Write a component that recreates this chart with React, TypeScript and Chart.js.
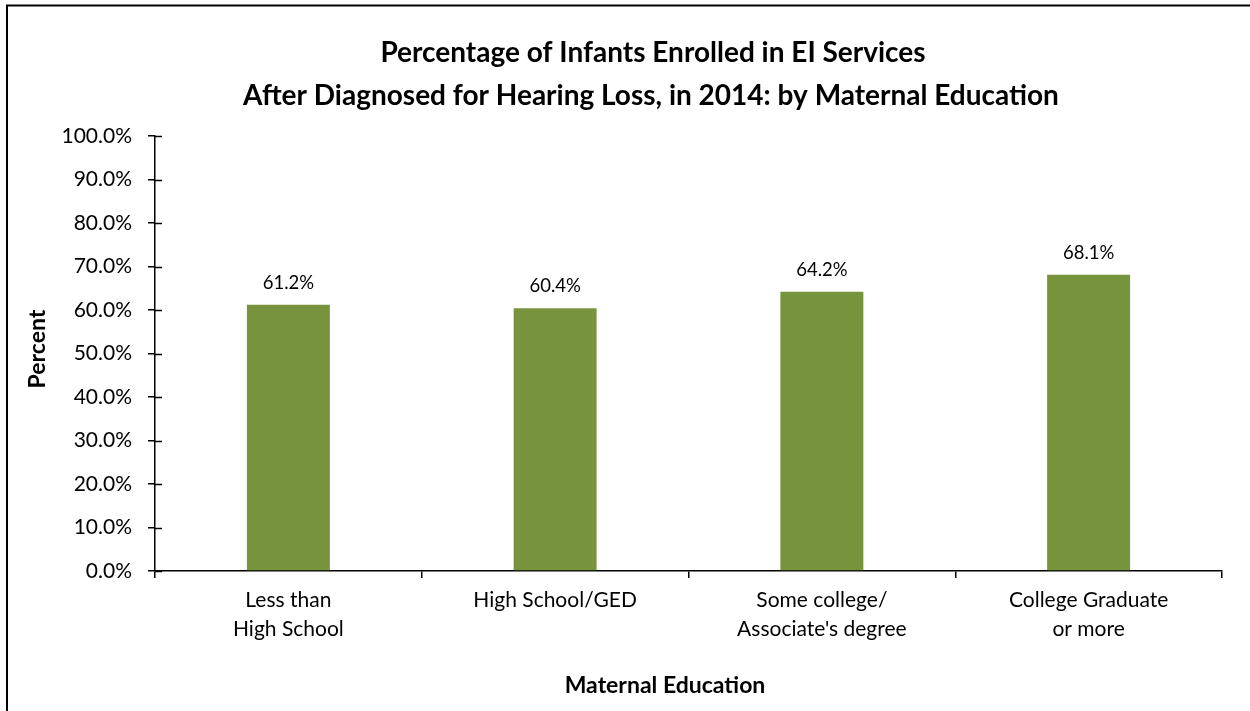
import React, { useEffect, useRef } from "react";
import { Chart, registerables } from "chart.js";

Chart.register(...registerables);

const categories: string[][] = [
  ["Less than", "High School"],
  ["High School/GED"],
  ["Some college/", "Associate's degree"],
  ["College Graduate", "or more"],
];
const values: number[] = [61.2, 60.4, 64.2, 68.1];
const titleLines: string[] = [
  "Percentage of Infants Enrolled in EI Services",
  "After Diagnosed for Hearing Loss, in 2014: by Maternal Education",
];
const yAxisTitle = "Percent";
const xAxisTitle = "Maternal Education";

const FONT = "Lato";
const BAR_COLOR = "#77933C";

const decorPlugin = {
  id: "decor",
  beforeDraw(chart: any) {
    const ctx = chart.ctx;
    ctx.save();
    ctx.fillStyle = "#ffffff";
    ctx.fillRect(0, 0, chart.width, chart.height);
    ctx.strokeStyle = "#000000";
    ctx.lineWidth = 2;
    ctx.beginPath();
    ctx.moveTo(7, chart.height + 5);
    ctx.lineTo(7, 5.5);
    ctx.lineTo(chart.width + 5, 5.5);
    ctx.stroke();
    ctx.restore();
  },
  afterDraw(chart: any) {
    const ctx = chart.ctx;
    const area = chart.chartArea;
    const yScale = chart.scales.y;
    ctx.save();
    ctx.strokeStyle = "#000000";
    ctx.lineWidth = 1.5;
    yScale.ticks.forEach((t: any) => {
      const py = Math.round(yScale.getPixelForValue(t.value)) + 0.5;
      ctx.beginPath();
      ctx.moveTo(area.left, py);
      ctx.lineTo(area.left + 7, py);
      ctx.stroke();
    });
    ctx.fillStyle = "#000000";
    ctx.textAlign = "center";
    ctx.textBaseline = "alphabetic";
    ctx.font = `bold 28px ${FONT}`;
    ctx.fillText(titleLines[0], 653, 62);
    ctx.fillText(titleLines[1], 651, 105);
    ctx.font = `bold 23px ${FONT}`;
    ctx.fillText(xAxisTitle, 665, 693);
    ctx.save();
    ctx.translate(45, 349);
    ctx.rotate(-Math.PI / 2);
    ctx.fillText(yAxisTitle, 0, 0);
    ctx.restore();
    ctx.font = `18.5px ${FONT}`;
    const meta = chart.getDatasetMeta(0);
    meta.data.forEach((bar: any, i: number) => {
      ctx.fillText(values[i].toFixed(1) + "%", bar.x, bar.y - 16);
    });
    ctx.restore();
  },
};

export default function App() {
  const canvasRef = useRef<HTMLCanvasElement | null>(null);

  useEffect(() => {
    const canvas = canvasRef.current;
    if (!canvas) return;
    const chart = new Chart(canvas, {
      type: "bar",
      data: {
        labels: categories,
        datasets: [
          {
            data: values,
            backgroundColor: BAR_COLOR,
            borderWidth: 0,
            categoryPercentage: 1,
            barPercentage: 0.311,
          },
        ],
      },
      options: {
        responsive: false,
        animation: false,
        layout: { padding: { left: 0, top: 136, right: 28, bottom: 0 } },
        plugins: {
          legend: { display: false },
          title: { display: false },
          tooltip: { enabled: false },
        },
        scales: {
          x: {
            offset: true,
            grid: {
              offset: true,
              drawOnChartArea: false,
              drawTicks: true,
              tickLength: 7,
              color: "#000000",
              lineWidth: 1.5,
            },
            border: { display: true, color: "#000000", width: 1.5 },
            ticks: {
              color: "#000000",
              font: { family: FONT, size: 21, lineHeight: 29 / 21 },
              padding: 8,
              maxRotation: 0,
              autoSkip: false,
            },
            afterFit(scale: any) {
              scale.height = 140;
            },
          },
          y: {
            min: 0,
            max: 100,
            grid: {
              drawOnChartArea: false,
              drawTicks: true,
              tickLength: 7,
              color: "#000000",
              lineWidth: 1.5,
            },
            border: { display: true, color: "#000000", width: 1.5 },
            ticks: {
              stepSize: 10,
              color: "#000000",
              font: { family: FONT, size: 21 },
              padding: 16,
              callback: (v: any) => Number(v).toFixed(1) + "%",
            },
            afterFit(scale: any) {
              scale.width = 155;
            },
          },
        },
      },
      plugins: [decorPlugin],
    });
    return () => chart.destroy();
  }, []);

  return (
    <div style={{ position: "absolute", left: 0, top: 0, width: 1250, height: 711 }}>
      <canvas ref={canvasRef} width={1250} height={711} style={{ display: "block" }} />
    </div>
  );
}
